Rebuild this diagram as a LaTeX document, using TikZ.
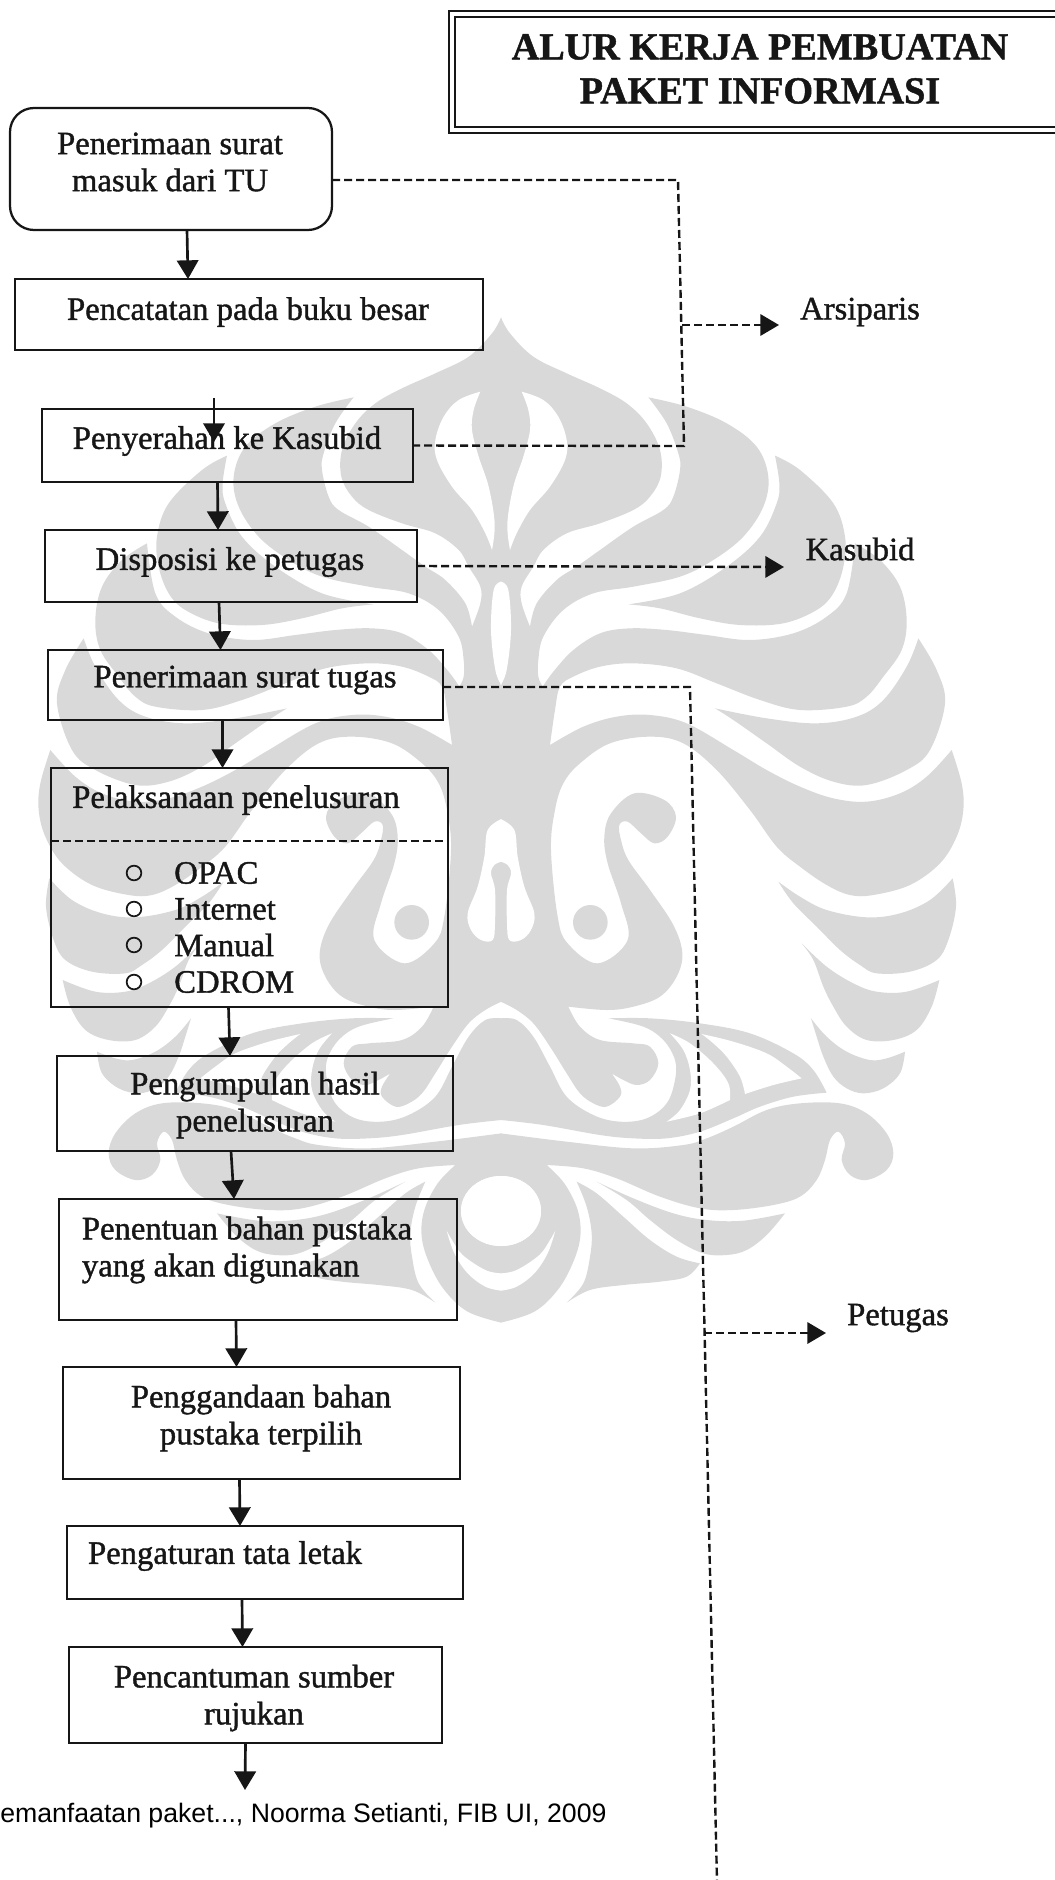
\documentclass[tikz,border=0pt]{standalone}
\usepackage{fontspec}
\usetikzlibrary{arrows.meta}
\setmainfont{Liberation Serif}
\newfontfamily\scanfont[FakeBold=1.2]{Liberation Serif}
\newfontfamily\headfont[FakeBold=1.2]{Liberation Serif Bold}
\newfontfamily\footfont{Liberation Sans}
\definecolor{inkColor}{HTML}{161616}
\definecolor{wmColor}{HTML}{D9D9D9}
\tikzset{
  flowRect/.style={draw=inkColor, line width=1.7pt, outer sep=0pt, inner sep=0pt},
  flowLabel/.style={text=inkColor, font=\scanfont\fontsize{24.5}{27.75}\selectfont, align=center, inner sep=0pt},
  flowLine/.style={draw=inkColor, line width=2pt, -{Triangle[length=14pt,width=16pt]}},
  dashLine/.style={draw=inkColor, line width=1.8pt, dash pattern=on 6pt off 3pt},
  dashArrow/.style={dashLine, -{Triangle[length=14pt,width=16pt,sep=0pt]}},
  bulletDot/.style={circle, draw=inkColor, line width=1.3pt, minimum size=11pt, inner sep=0pt},
  wmFill/.style={fill=wmColor, every plot/.style={smooth,tension=.6}},
  wmHole/.style={fill=white, every plot/.style={smooth,tension=.6}}
}
% box from its edges, in pixels of the page
\newcommand{\stepBox}[6][]{\node [flowRect, #1, minimum width={(#4-#3)*.75pt}, minimum height={(#6-#5)*.75pt}] (#2) at ({(#3+#4)/2},{(#5+#6)/2}) {};}
\newcommand{\stepText}[4]{\node [flowLabel] (#1) at (#2,#3) {#4};}
\newcommand{\stepArrow}[4]{\draw [flowLine] ([xshift=#3*.75pt]#1.south) -- ([xshift=#4*.75pt]#2.north);}
\newcommand{\wmLeaf}[2]{\fill [wmFill] plot coordinates {#1} -- plot coordinates {#2} -- cycle;}
% one half of the watermark: grey first, white after
\newcommand{\wmGrey}{
  \fill [wmFill] plot coordinates {(3,22) (30,70) (100,140) (200,190) (300,235) (380,280) (440,340) (480,420) (482,500) (450,560) (400,600) (300,640) (200,670) (130,720) (100,770) (65,830) (65,880) (90,950)}
    -- plot coordinates {(90,950) (110,880) (170,810) (230,770) (300,720) (400,650) (490,600) (520,560) (540,480) (535,430) (500,340) (445,262)}
    -- plot coordinates {(445,262) (560,290) (680,340) (770,410) (805,500) (790,590) (730,680) (640,750) (540,800) (400,830) (280,850) (190,900) (130,980) (115,1050) (115,1100) (128,1130)}
    -- plot coordinates {(128,1130) (160,1085) (220,1020) (300,970) (390,955) (500,960) (620,975) (750,990) (880,970) (980,920) (1040,850) (1065,700)}
    -- plot coordinates {(1065,700) (1140,750) (1200,830) (1220,930) (1205,1020) (1150,1100) (1100,1160) (1040,1190) (900,1200) (780,1170) (650,1120) (530,1075) (400,1060) (300,1070) (220,1100) (180,1130) (165,1200) (150,1305)}
    -- plot coordinates {(150,1305) (250,1250) (350,1220) (450,1215) (560,1240) (700,1320) (800,1380) (900,1430) (1000,1465) (1100,1475) (1200,1450) (1280,1400) (1355,1320)}
    -- plot coordinates {(1355,1320) (1385,1420) (1390,1500) (1370,1580) (1320,1660) (1230,1725) (1120,1755) (1050,1755) (980,1725) (900,1670) (830,1610) (750,1500) (650,1380) (550,1300) (450,1280) (330,1300) (240,1360) (190,1420) (165,1500) (153,1620) (173,1820) (203,1900) (293,1960) (383,1890) (363,1780) (323,1660) (313,1580) (333,1510) (403,1450) (493,1470) (528,1520) (503,1580) (463,1600) (423,1570) (383,1535) (358,1545) (363,1590) (385,1650) (450,1740) (520,1845) (547,1930) (530,2000) (480,2060) (400,2090) (320,2100) (205,2090)}
    -- plot coordinates {(205,2090) (240,2150) (300,2190) (400,2200) (450,2210) (475,2260) (450,2310) (410,2325) (370,2310) (335,2290)}
    -- plot coordinates {(335,2290) (360,2330) (360,2360) (320,2390) (280,2380) (240,2350) (200,2290) (150,2210) (100,2140) (50,2100) (2,2075)}
    -- cycle;
  \wmLeaf{(385,883) (540,850) (680,770) (780,680) (830,580) (838,520) (825,437)}{(825,437) (900,480) (1000,580) (1035,680) (1030,770) (1000,850) (950,900) (850,940) (720,945) (600,925) (480,895) (385,883)}
  \wmLeaf{(645,1195) (800,1225) (950,1240) (1070,1220) (1150,1170) (1220,1070) (1255,985)}{(1255,985) (1310,1080) (1335,1180) (1290,1320) (1220,1380) (1100,1425) (1000,1415) (900,1370) (800,1300) (700,1230) (645,1195)}
  \wmLeaf{(835,1715) (900,1760) (980,1800) (1100,1822) (1200,1810) (1290,1770) (1358,1705)}{(1358,1705) (1368,1790) (1345,1890) (1310,1950) (1230,1985) (1130,1990) (1080,1965) (1020,1920) (950,1850) (880,1780) (835,1715)}
  \wmLeaf{(905,1900) (980,1970) (1060,2020) (1130,2045) (1220,2045) (1318,2010)}{(1318,2010) (1295,2090) (1250,2160) (1180,2190) (1100,2190) (1040,2150) (1000,2090) (970,2030) (940,1950) (905,1900)}
  \wmLeaf{(933,2125) (980,2180) (1040,2225) (1110,2250) (1160,2245) (1215,2225)}{(1215,2225) (1200,2290) (1150,2335) (1090,2350) (1040,2335) (1000,2300) (970,2240) (950,2180) (933,2125)}
  \fill [wmFill] plot coordinates {(325,2125) (450,2125) (600,2140) (750,2170) (880,2230) (940,2280) (980,2348)}
    -- plot coordinates {(980,2348) (880,2360) (780,2390) (700,2425) (600,2465) (500,2485) (400,2485) (300,2475) (130,2445) (2,2430)}
    -- plot coordinates {(2,2125) (50,2130) (100,2180) (150,2270) (200,2360) (280,2415) (360,2435) (440,2425) (500,2380) (525,2310) (525,2250) (490,2190) (430,2150) (325,2125)}
    -- cycle;
  \fill [wmFill] plot coordinates {(2,2470) (200,2495) (400,2515) (550,2505) (620,2485) (700,2450) (800,2400) (900,2380) (1020,2380) (1100,2410) (1160,2470) (1180,2530) (1160,2580) (1100,2610) (1050,2595) (1025,2550) (1035,2500) (1015,2465) (990,2490) (975,2550) (950,2610) (900,2660) (820,2685) (700,2700) (600,2695) (480,2660) (350,2605) (250,2575) (140,2565)}
    -- plot coordinates {(140,2565) (193,2620) (233,2700) (241,2780) (218,2860) (173,2940) (103,3005) (2,3038)}
    -- cycle;
  \wmLeaf{(290,2615) (400,2665) (520,2710) (620,2730) (730,2732) (855,2710)}{(855,2710) (800,2775) (740,2820) (680,2835) (610,2830) (530,2790) (450,2730) (380,2670) (290,2615)}
  \fill [wmFill] plot coordinates {(230,2615) (290,2650) (370,2720) (450,2790) (530,2840) (600,2860)}
    -- plot coordinates {(600,2860) (560,2900) (480,2915) (370,2925) (270,2940) (200,2978)}
    -- plot coordinates {(200,2978) (250,2920) (270,2840) (275,2770) (260,2690) (230,2615)}
    -- cycle;
  \fill [wmFill] (271,1837) circle [radius=52];
}
\newcommand{\wmWhite}{
  \fill [wmHole] plot coordinates {(65,245) (130,270) (175,320) (200,390) (195,450) (150,530) (90,600) (50,670) (30,720)} -- plot coordinates {(30,720) (22,640) (40,530) (70,440) (90,360) (85,300) (65,245)} -- cycle;
  \fill [wmHole] plot coordinates {(2,815) (25,840) (33,960) (20,1080) (2,1125)} -- cycle;
  \fill [wmHole] plot coordinates {(2,1527) (43,1560) (53,1640) (73,1730) (103,1810) (93,1860) (63,1890) (28,1890) (21,1840) (21,1740) (33,1690) (23,1665) (2,1655)} -- cycle;
  \fill [wmHole] plot coordinates {(510,2170) (570,2200) (640,2260) (685,2320) (690,2370)} -- plot coordinates {(690,2370) (600,2410) (500,2435)} -- plot coordinates {(500,2435) (540,2400) (570,2340) (570,2280) (550,2220) (510,2170)} -- cycle;
  \fill [wmHole] plot coordinates {(605,2172) (700,2195) (800,2230) (860,2270) (905,2305)} -- plot coordinates {(905,2305) (820,2325) (735,2352)} -- plot coordinates {(735,2352) (720,2300) (680,2240) (640,2200) (605,2172)} -- cycle;
  \fill [white] (3,2703) ellipse [x radius=120, y radius=105];
  \fill [wmHole] plot coordinates {(166,2762) (143,2830) (103,2890) (50,2930) (2,2942)} -- plot coordinates {(2,2890) (50,2880) (118,2835) (150,2790) (166,2762)} -- cycle;
}
\begin{document}
\begin{tikzpicture}[x=.75pt, y=-.75pt]
  \useasboundingbox (0,0) rectangle (1055,1880);
  \foreach \side/\origin in {1/500,-1/502} {
    \begin{scope}[shift={(\origin,310)}, xscale=\side, x=.25pt, y=-.25pt]
      \wmGrey
    \end{scope}
  }
  \foreach \side/\origin in {1/500,-1/502} {
    \begin{scope}[shift={(\origin,310)}, xscale=\side, x=.25pt, y=-.25pt]
      \wmWhite
    \end{scope}
  }

  % title
  \node [draw=inkColor, double, line width=1.8pt, double distance=2.4pt, minimum width=618*.75pt, minimum height=116*.75pt] (titleBox) at (761,72) {};
  \node [text=inkColor, font=\headfont\fontsize{28.6}{33}\selectfont, align=center, inner sep=0pt] (titleText) at (760,69) {ALUR KERJA PEMBUATAN\\PAKET INFORMASI};

  % boxes
  \stepBox[rounded corners=18pt]{boxEntry}{10}{332}{108}{230}
  \stepBox{boxBuku}{15}{483}{279}{350}
  \stepBox{boxKasubid}{42}{413}{409}{482}
  \stepBox{boxDisposisi}{45}{417}{530}{602}
  \stepBox{boxTugas}{48}{443}{650}{720}
  \stepBox{boxCari}{51}{448}{768}{1007}
  \stepBox{boxKumpul}{57}{453}{1056}{1151}
  \stepBox{boxPenentuan}{59}{457}{1199}{1320}
  \stepBox{boxGanda}{63}{460}{1367}{1479}
  \stepBox{boxLetak}{67}{463}{1526}{1599}
  \stepBox{boxSumber}{69}{442}{1647}{1743}

  % texts
  \stepText{textEntry}{170}{162}{Penerimaan surat\\masuk dari TU}
  \stepText{textBuku}{248}{312}{Pencatatan pada buku besar}
  \stepText{textKasubid}{227}{441}{Penyerahan ke Kasubid}
  \stepText{textDisposisi}{230}{562}{Disposisi ke petugas}
  \stepText{textTugas}{245}{680}{Penerimaan surat tugas}
  \stepText{textCari}{236}{800}{Pelaksanaan penelusuran}
  \stepText{textKumpul}{255}{1105}{Pengumpulan hasil\\penelusuran}
  \node [flowLabel, align=left] (textPenentuan) at (247,1250) {Penentuan bahan pustaka\\yang akan digunakan};
  \stepText{textGanda}{261}{1418}{Penggandaan bahan\\pustaka terpilih}
  \stepText{textLetak}{225}{1556}{Pengaturan tata letak}
  \stepText{textSumber}{254}{1698}{Pencantuman sumber\\rujukan}
  \stepText{labelArsip}{860}{312}{Arsiparis}
  \stepText{labelKasubid}{860}{549}{Kasubid}
  \stepText{labelPetugas}{898}{1318}{Petugas}

  % search list
  \coordinate (dashLevel) at (0,841);
  \draw [dashLine, line width=1.5pt] (boxCari.west |- dashLevel) -- (boxCari.east |- dashLevel);
  \foreach \entryName/\ypos in {OPAC/873,Internet/909,Manual/945,CDROM/982} {
    \node [bulletDot] (bullet\entryName) at (134,\ypos) {};
    \node [flowLabel, anchor=west] (item\entryName) at (174,\ypos) {\entryName};
  }

  % flow
  \stepArrow{boxEntry}{boxBuku}{16}{-61}
  \coordinate (freeTop) at (214,398);
  \coordinate (freeTip) at (214,442);
  \draw [flowLine] (freeTop) -- (freeTip);
  \stepArrow{boxKasubid}{boxDisposisi}{-10}{-13}
  \stepArrow{boxDisposisi}{boxTugas}{-12}{-25}
  \stepArrow{boxTugas}{boxCari}{-23}{-27}
  \stepArrow{boxCari}{boxKumpul}{-21}{-25}
  \stepArrow{boxKumpul}{boxPenentuan}{-24}{-24}
  \stepArrow{boxPenentuan}{boxGanda}{-22}{-25}
  \stepArrow{boxGanda}{boxLetak}{-22}{-25}
  \stepArrow{boxLetak}{boxSumber}{-23}{-13}
  \coordinate (flowEnd) at (245,1790);
  \draw [flowLine] ([xshift=-7.5pt]boxSumber.south) -- (flowEnd);

  % dashed links
  \coordinate (elbowTop) at (678,180);
  \coordinate (elbowBottom) at (684,446);
  \draw [dashLine] ([yshift=-8.25pt]boxEntry.east) -- (elbowTop) -- (elbowBottom) -- (boxKasubid.east);
  \coordinate (branchArsip) at (682,325);
  \coordinate (tipArsip) at (779,325);
  \draw [dashArrow] (branchArsip) -- (tipArsip);
  \coordinate (tipKasubid) at (784,567);
  \draw [dashArrow] (boxDisposisi.east) -- (tipKasubid);
  \coordinate (elbowTugas) at (690,687);
  \coordinate (pageEnd) at (717,1882);
  \draw [dashLine] ([yshift=-1.5pt]boxTugas.east) -- (elbowTugas) -- (pageEnd);
  \coordinate (branchPetugas) at (704,1333);
  \coordinate (tipPetugas) at (826,1333);
  \draw [dashArrow] (branchPetugas) -- (tipPetugas);

  % page foot
  \node [anchor=west, inner sep=0pt, text=black, font=\footfont\fontsize{20}{24}\selectfont] (footText) at (0,1816) {emanfaatan paket..., Noorma Setianti, FIB UI, 2009};
\end{tikzpicture}
\end{document}
